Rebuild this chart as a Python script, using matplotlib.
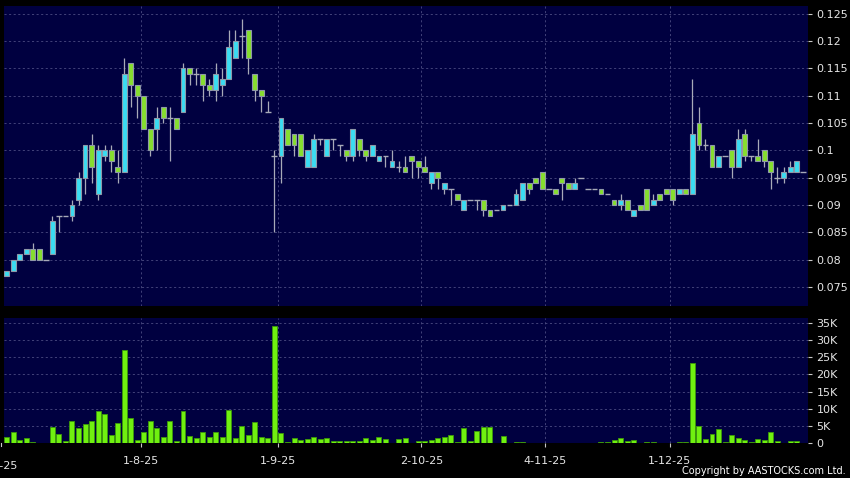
import numpy as np
import matplotlib
matplotlib.use("Agg")
import matplotlib.pyplot as plt
from matplotlib.ticker import FuncFormatter, MultipleLocator
from matplotlib.transforms import blended_transform_factory

# daily OHLC (index = trading day)
opens = [
    .077, .078, .080, .081, .082, .082, .080, .081, .088, .088,
    .088, .091, .095, .101, .092, .099, .100, .097, .096, .116,
    .112, .110, .104, .104, .108, .106, .106, .107, .115, .114,
    .114, .112, .111, .112, .113, .117, .121, .122, .114, .111,
    .107, .099, .099, .104, .103, .103, .097, .097, .102, .099,
    .102, .101, .100, .099, .102, .100, .099, .098, .099, .097,
    .097, .097, .099, .098, .097, .094, .096, .093, .093, .092,
    .089, .091, .091, .091, .089, .089, .089, .090, .090, .091,
    .094, .095, .096, .093, .093, .095, .094, .093, .095, .093,
    .093, .093, .092, .091, .090, .091, .088, .090, .093, .090,
    .092, .093, .093, .092, .093, .092, .105, .101, .101, .097,
    .099, .100, .097, .103, .099, .099, .100, .098, .095, .095,
    .096, .096, .096,
]
highs = [
    .078, .080, .081, .082, .083, .082, .080, .088, .088, .088,
    .091, .096, .101, .103, .101, .101, .101, .100, .117, .116,
    .112, .110, .104, .108, .108, .108, .106, .116, .115, .115,
    .114, .113, .116, .115, .122, .122, .124, .122, .114, .111,
    .109, .100, .106, .104, .103, .103, .100, .103, .102, .102,
    .102, .101, .100, .104, .102, .100, .101, .099, .099, .100,
    .098, .099, .099, .098, .099, .096, .096, .094, .093, .092,
    .091, .091, .091, .091, .089, .089, .090, .090, .093, .094,
    .094, .095, .096, .093, .093, .095, .094, .095, .095, .093,
    .093, .093, .092, .091, .092, .091, .089, .090, .093, .092,
    .092, .093, .093, .093, .093, .113, .108, .102, .101, .099,
    .099, .100, .104, .104, .099, .102, .100, .098, .097, .097,
    .098, .098, .096,
]
lows = [
    .077, .078, .080, .081, .080, .080, .080, .081, .085, .088,
    .087, .090, .092, .094, .091, .098, .096, .094, .096, .108,
    .106, .104, .099, .100, .105, .098, .104, .107, .112, .112,
    .109, .110, .109, .110, .113, .117, .117, .114, .109, .107,
    .107, .085, .094, .101, .099, .099, .097, .097, .101, .099,
    .100, .099, .098, .098, .099, .098, .099, .098, .097, .097,
    .096, .096, .095, .095, .096, .093, .093, .092, .090, .091,
    .089, .091, .089, .088, .088, .089, .089, .090, .090, .091,
    .092, .094, .093, .093, .092, .091, .093, .093, .095, .093,
    .093, .092, .092, .090, .089, .089, .088, .089, .089, .090,
    .091, .092, .090, .092, .092, .092, .100, .100, .097, .097,
    .099, .095, .097, .098, .098, .098, .097, .093, .094, .094,
    .096, .096, .096,
]
closes = [
    .078, .080, .081, .082, .080, .080, .080, .087, .088, .088,
    .090, .095, .101, .097, .100, .100, .098, .096, .114, .112,
    .110, .104, .100, .106, .106, .106, .104, .115, .114, .114,
    .112, .111, .114, .113, .119, .120, .121, .117, .111, .110,
    .107, .099, .106, .101, .101, .099, .100, .102, .102, .102,
    .102, .101, .099, .104, .100, .099, .101, .099, .099, .098,
    .097, .096, .098, .097, .096, .096, .095, .094, .093, .091,
    .091, .091, .091, .089, .088, .089, .090, .090, .092, .094,
    .093, .094, .093, .093, .092, .094, .093, .094, .095, .093,
    .093, .092, .092, .090, .091, .089, .089, .089, .089, .091,
    .091, .092, .091, .093, .092, .103, .101, .101, .097, .099,
    .099, .097, .102, .099, .099, .098, .098, .096, .095, .096,
    .097, .098, .096,
]
volumes = [
    1900, 3200, 1100, 1500, 400, 100, 0, 4800, 2800, 600,
    6500, 4400, 5700, 6500, 9500, 8600, 2500, 5900, 27000, 7300,
    1000, 3400, 6500, 4400, 1700, 6600, 700, 9500, 2000, 1500,
    3200, 1900, 3300, 1800, 9800, 1600, 5100, 2300, 6300, 1900,
    1500, 34200, 2900, 300, 1500, 1100, 1200, 1900, 1300, 1500,
    600, 800, 800, 700, 800, 1600, 900, 1700, 1200, 200,
    1200, 1500, 200, 700, 800, 1000, 1500, 1800, 2300, 400,
    4400, 600, 3700, 4700, 4800, 100, 2000, 100, 300, 300,
    100, 100, 0, 200, 200, 100, 100, 200, 100, 0,
    0, 500, 300, 1100, 1500, 600, 900, 100, 300, 400,
    100, 50, 0, 400, 400, 23200, 5100, 1200, 2800, 4200,
    500, 2300, 1500, 1100, 300, 1300, 1000, 3400, 600, 200,
    700, 700, 0,
]

tick_idx = [20, 41, 63, 82, 101]
tick_labels = ["1-8-25", "1-9-25", "2-10-25", "4-11-25", "1-12-25"]
first_label = "2-7-25"

BG = "#000040"
GRID = "#4c4c82"
UP = "#3adcf2"
DOWN = "#86de2e"
EDGE = "#8f98a8"
WICK = "#a8aab8"
VOL = "#70f010"
VOL_EDGE = "#3c9a08"
TXT = "#e6e6e6"

o = np.array(opens)
h = np.array(highs)
l = np.array(lows)
c = np.array(closes)
x = np.arange(len(o))
up = c > o
dn = c < o
flat = c == o

fig = plt.figure(figsize=(8.5, 4.78), dpi=100, facecolor="black")
ax = fig.add_axes([0.0047, 0.3598, 0.9459, 0.6283], facecolor=BG)
axv = fig.add_axes([0.0047, 0.0726, 0.9459, 0.2615], facecolor=BG, sharex=ax)

grid_kw = dict(color=GRID, linestyle=(0, (2.5, 3)), linewidth=0.6)

# price panel
ax.vlines(x, l, h, color=WICK, linewidth=0.9, zorder=2)
ax.bar(x[up], (c - o)[up], bottom=o[up], width=0.74, color=UP,
       edgecolor=EDGE, linewidth=0.8, zorder=3)
ax.bar(x[dn], (o - c)[dn], bottom=c[dn], width=0.74, color=DOWN,
       edgecolor=EDGE, linewidth=0.8, zorder=3)
ax.hlines(c[flat], x[flat] - 0.45, x[flat] + 0.45, color=WICK,
          linewidth=1.0, zorder=3)

ax.set_xlim(-0.41, 122.7)
ax.set_ylim(0.0715, 0.1265)
ax.yaxis.set_major_locator(MultipleLocator(0.005))
ax.yaxis.set_major_formatter(FuncFormatter(lambda v, p: f"{round(v, 3):g}"))
ax.grid(True, **grid_kw)
ax.set_axisbelow(True)

# volume panel
axv.bar(x, volumes, width=0.76, color=VOL, edgecolor=VOL_EDGE,
        linewidth=0.6, zorder=3)
axv.set_ylim(0, 36300)
axv.yaxis.set_major_locator(MultipleLocator(5000))
axv.yaxis.set_major_formatter(
    FuncFormatter(lambda v, p: "0" if v == 0 else f"{int(round(v / 1000))}K"))
axv.grid(True, **grid_kw)
axv.set_axisbelow(True)

xt = [i + 0.5 for i in tick_idx]
axv.set_xticks(xt)
axv.set_xticklabels(tick_labels)

for a in (ax, axv):
    for s in a.spines.values():
        s.set_visible(False)
    a.yaxis.tick_right()
    a.tick_params(axis="y", direction="out", length=3, width=0.8,
                  color="#c8c8c8", labelcolor=TXT, labelsize=8, pad=3)

ax.tick_params(axis="x", length=0, labelbottom=False)
axv.tick_params(axis="x", direction="out", length=3, width=0.8,
                color="#c8c8c8", labelcolor=TXT, labelsize=8, pad=6)

# first date label sits on the left edge and is partly cut, as in the original
tr = blended_transform_factory(axv.transData, axv.transAxes)
axv.text(-1.1, -0.145, first_label, transform=tr, ha="center", va="top",
         fontsize=8, color=TXT, clip_on=False)
axv.plot([-0.9, -0.9], [0, -0.025], transform=tr, color="#c8c8c8",
         linewidth=0.8, clip_on=False)

fig.text(0.995, 0.004, "Copyright by AASTOCKS.com Ltd.", ha="right",
         va="bottom", fontsize=7, color="white")

fig.savefig("out.png", dpi=100, facecolor="black")
